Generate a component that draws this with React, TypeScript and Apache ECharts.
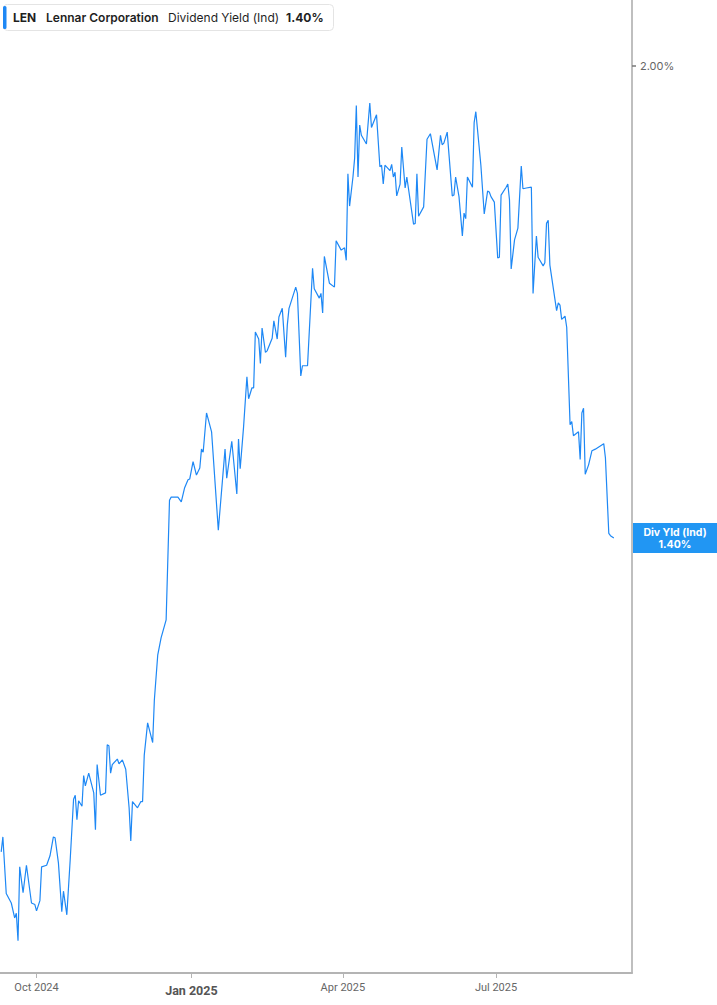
import React, { useEffect, useRef } from "react";
import * as echarts from "echarts";

const ticker = "LEN";
const companyName = "Lennar Corporation";
const metricName = "Dividend Yield (Ind)";
const metricShort = "Div Yld (Ind)";

const dates = [
  "2024-09-10","2024-09-11","2024-09-13","2024-09-16","2024-09-18","2024-09-19","2024-09-20","2024-09-21","2024-09-23","2024-09-25",
  "2024-09-28","2024-09-30","2024-10-01","2024-10-03","2024-10-04","2024-10-07","2024-10-09","2024-10-11","2024-10-12","2024-10-14",
  "2024-10-16","2024-10-17","2024-10-19","2024-10-21","2024-10-23","2024-10-24","2024-10-25","2024-10-26","2024-10-28","2024-10-29",
  "2024-10-30","2024-11-01","2024-11-04","2024-11-05","2024-11-06","2024-11-08","2024-11-11","2024-11-12","2024-11-13","2024-11-14",
  "2024-11-15","2024-11-18","2024-11-19","2024-11-21","2024-11-23","2024-11-25","2024-11-26","2024-11-27","2024-11-30","2024-12-02",
  "2024-12-03","2024-12-04","2024-12-06","2024-12-09","2024-12-10","2024-12-12","2024-12-14","2024-12-17","2024-12-19","2024-12-20",
  "2024-12-24","2024-12-26","2024-12-28","2024-12-30","2024-12-31","2025-01-02","2025-01-04","2025-01-06","2025-01-07","2025-01-08",
  "2025-01-10","2025-01-13","2025-01-17","2025-01-21","2025-01-22","2025-01-25","2025-01-28","2025-01-29","2025-01-30","2025-02-01",
  "2025-02-03","2025-02-04","2025-02-06","2025-02-07","2025-02-08","2025-02-10","2025-02-11","2025-02-12","2025-02-14","2025-02-15",
  "2025-02-18","2025-02-19","2025-02-21","2025-02-22","2025-02-24","2025-02-26","2025-02-27","2025-02-28","2025-03-04","2025-03-05",
  "2025-03-07","2025-03-08","2025-03-11","2025-03-14","2025-03-15","2025-03-18","2025-03-19","2025-03-20","2025-03-21","2025-03-24",
  "2025-03-27","2025-03-28","2025-03-31","2025-04-02","2025-04-03","2025-04-04","2025-04-05","2025-04-07","2025-04-08","2025-04-09",
  "2025-04-10","2025-04-11","2025-04-12","2025-04-15","2025-04-17","2025-04-18","2025-04-21","2025-04-23","2025-04-24","2025-04-25",
  "2025-04-26","2025-04-29","2025-04-30","2025-05-01","2025-05-02","2025-05-03","2025-05-05","2025-05-06","2025-05-08","2025-05-09",
  "2025-05-13","2025-05-14","2025-05-15","2025-05-16","2025-05-19","2025-05-21","2025-05-23","2025-05-27","2025-05-29","2025-05-30",
  "2025-05-31","2025-06-02","2025-06-05","2025-06-06","2025-06-07","2025-06-09","2025-06-11","2025-06-12","2025-06-13","2025-06-14",
  "2025-06-17","2025-06-18","2025-06-19","2025-06-22","2025-06-24","2025-06-26","2025-06-27","2025-06-28","2025-06-30","2025-07-02",
  "2025-07-03","2025-07-04","2025-07-07","2025-07-08","2025-07-09","2025-07-10","2025-07-12","2025-07-14","2025-07-16","2025-07-17",
  "2025-07-19","2025-07-22","2025-07-23","2025-07-25","2025-07-26","2025-07-29","2025-07-30","2025-07-31","2025-08-01","2025-08-02",
  "2025-08-06","2025-08-07","2025-08-08","2025-08-09","2025-08-11","2025-08-12","2025-08-14","2025-08-15","2025-08-16","2025-08-19",
  "2025-08-20","2025-08-21","2025-08-22","2025-08-23","2025-08-25","2025-08-27","2025-08-29","2025-09-03","2025-09-04","2025-09-06",
  "2025-09-07","2025-09-09",
];

const yields = [
  1.001,1.020,0.948,0.936,0.917,0.923,0.888,0.982,0.949,0.984,
  0.936,0.934,0.926,0.939,0.982,0.984,0.996,1.020,1.019,0.987,
  0.925,0.951,0.921,0.991,1.068,1.073,1.042,1.066,1.059,1.098,
  1.085,1.101,1.076,1.029,1.112,1.073,1.076,1.137,1.136,1.101,
  1.112,1.119,1.113,1.118,1.106,1.057,1.015,1.065,1.057,1.065,
  1.065,1.124,1.165,1.140,1.194,1.251,1.273,1.296,1.448,1.452,
  1.452,1.446,1.464,1.474,1.475,1.497,1.480,1.489,1.513,1.509,
  1.559,1.535,1.410,1.513,1.476,1.523,1.456,1.526,1.488,1.541,
  1.605,1.577,1.591,1.591,1.662,1.653,1.622,1.667,1.636,1.638,
  1.654,1.676,1.653,1.681,1.692,1.630,1.671,1.692,1.719,1.711,
  1.606,1.619,1.619,1.743,1.717,1.705,1.711,1.686,1.758,1.724,
  1.719,1.778,1.766,1.769,1.753,1.863,1.822,1.859,1.883,1.950,
  1.859,1.925,1.912,1.901,1.953,1.922,1.938,1.872,1.874,1.850,
  1.874,1.867,1.875,1.859,1.865,1.835,1.850,1.897,1.845,1.859,
  1.799,1.800,1.863,1.809,1.821,1.907,1.914,1.868,1.912,1.900,
  1.902,1.916,1.835,1.836,1.859,1.834,1.784,1.813,1.806,1.859,
  1.846,1.928,1.942,1.874,1.812,1.841,1.840,1.834,1.827,1.756,
  1.757,1.836,1.846,1.850,1.830,1.742,1.779,1.794,1.873,1.844,
  1.845,1.846,1.711,1.784,1.757,1.746,1.750,1.800,1.804,1.747,
  1.689,1.699,1.696,1.678,1.682,1.668,1.544,1.548,1.530,1.535,
  1.500,1.559,1.565,1.481,1.493,1.511,1.513,1.520,1.502,1.406,
  1.403,1.400,
];

const xTickDates = ["2024-10-01", "2025-01-01", "2025-04-01", "2025-07-01"];
const xTickLabels = ["Oct 2024", "Jan 2025", "Apr 2025", "Jul 2025"];
const yearStartLabel = "Jan 2025";
const yTickValues = [2.0];
const xRange = ["2024-09-09T07:00:00Z", "2025-09-19T19:00:00Z"];
const yRange = [0.847, 2.084];

const toTs = (d: string) => Date.parse(d.length === 10 ? d + "T00:00:00Z" : d);

const LINE_BLUE = "#1e88f5";
const TAG_BLUE = "#2196f3";

export default function App() {
  const ref = useRef<HTMLDivElement>(null);

  useEffect(() => {
    document.body.style.margin = "0";
    const chart = echarts.init(ref.current!, null, { renderer: "svg" });
    const data = dates.map((d, i) => [toTs(d), yields[i]]);
    const tickTs = xTickDates.map(toTs);
    const lastVal = yields[yields.length - 1];
    const lastText = lastVal.toFixed(2) + "%";

    chart.setOption({
      animation: false,
      textStyle: { fontFamily: "Inter, Roboto, sans-serif" },
      grid: { left: 0, right: 85, top: 0, bottom: 32, containLabel: false },
      xAxis: {
        type: "value",
        min: toTs(xRange[0]),
        max: toTs(xRange[1]),
        axisLine: { show: true, onZero: false, lineStyle: { color: "#b4b4b4", width: 2 } },
        axisTick: { show: true, customValues: tickTs, length: 5, lineStyle: { color: "#b4b4b4", width: 1 } },
        axisLabel: {
          customValues: tickTs,
          margin: 9,
          formatter: (v: number) => {
            let best = 0;
            tickTs.forEach((t, i) => { if (Math.abs(t - v) < Math.abs(tickTs[best] - v)) best = i; });
            const lbl = xTickLabels[best];
            return lbl === yearStartLabel ? `{y|${lbl}}` : `{m|${lbl}}`;
          },
          rich: {
            m: { fontFamily: "Roboto, sans-serif", fontSize: 11, color: "#666666" },
            y: { fontFamily: "Roboto, sans-serif", fontSize: 12.5, fontWeight: "bold", color: "#555555", padding: [2, 0, 0, 0] },
          },
        },
        splitLine: { show: false },
      },
      yAxis: {
        type: "value",
        position: "right",
        min: yRange[0],
        max: yRange[1],
        axisLine: { show: true, onZero: false, lineStyle: { color: "#aaaaaa", width: 1.5 } },
        axisTick: { show: true, customValues: yTickValues, length: 4, lineStyle: { color: "#777777", width: 1.5 } },
        axisLabel: {
          customValues: yTickValues,
          formatter: (v: number) => v.toFixed(2) + "%",
          color: "#666666",
          fontSize: 11,
          margin: 8,
          fontFamily: "Inter, sans-serif",
        },
        splitLine: { show: false },
      },
      series: [
        {
          type: "line",
          data,
          symbol: "none",
          showSymbol: false,
          silent: true,
          lineStyle: { color: LINE_BLUE, width: 1.2 },
          itemStyle: { color: LINE_BLUE },
        },
      ],
    });

    const py = chart.convertToPixel({ yAxisIndex: 0 }, lastVal) as number;
    const gx = chart.convertToPixel({ xAxisIndex: 0 }, toTs(xRange[1])) as number;
    const tagW = 717 - gx - 1;

    chart.setOption({
      graphic: [
        {
          type: "group",
          children: [
            { type: "rect", shape: { x: 3.5, y: 4.5, width: 330, height: 26, r: 4 }, style: { fill: "#ffffff", stroke: "#e4e4e4", lineWidth: 1 } },
            { type: "rect", shape: { x: 3, y: 6, width: 3.5, height: 23, r: 1.5 }, style: { fill: LINE_BLUE } },
            { type: "text", x: 13, y: 17.5, style: { text: ticker, fontFamily: "Inter, sans-serif", fontSize: 12, fontWeight: "bold", fill: "#1f1f1f", verticalAlign: "middle" } },
            { type: "text", x: 46, y: 17.5, style: { text: companyName, fontFamily: "Inter, sans-serif", fontSize: 12, fontWeight: 600, fill: "#1f1f1f", verticalAlign: "middle" } },
            { type: "text", x: 168, y: 17.5, style: { text: metricName, fontFamily: "Inter, sans-serif", fontSize: 12, fill: "#1f1f1f", verticalAlign: "middle" } },
            { type: "text", x: 286, y: 17.5, style: { text: lastText, fontFamily: "Inter, sans-serif", fontSize: 12, fontWeight: "bold", fill: "#1f1f1f", verticalAlign: "middle" } },
          ],
        },
        {
          type: "group",
          children: [
            { type: "rect", shape: { x: gx + 1, y: py - 15, width: tagW, height: 30 }, style: { fill: TAG_BLUE } },
            { type: "text", x: gx + 1 + tagW / 2, y: py - 6, style: { text: metricShort, fontFamily: "Inter, sans-serif", fontSize: 10.5, fontWeight: "bold", fill: "#ffffff", align: "center", verticalAlign: "middle" } },
            { type: "text", x: gx + 1 + tagW / 2, y: py + 6.5, style: { text: lastText, fontFamily: "Inter, sans-serif", fontSize: 10.5, fontWeight: "bold", fill: "#ffffff", align: "center", verticalAlign: "middle" } },
          ],
        },
      ],
    });

    return () => chart.dispose();
  }, []);

  return <div ref={ref} style={{ position: "absolute", left: 0, top: 0, width: 717, height: 1005 }} />;
}
